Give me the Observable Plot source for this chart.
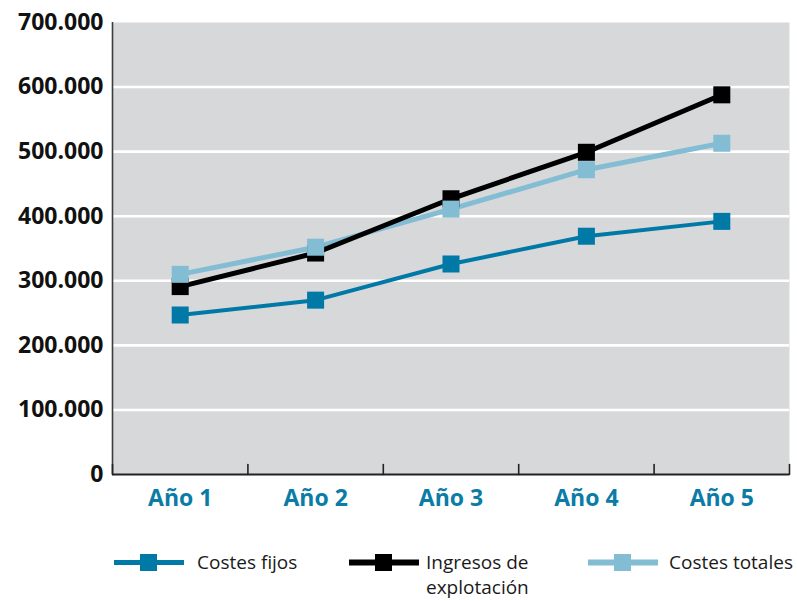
<!DOCTYPE html>
<html>
<head>
<meta charset="utf-8">
<script src="https://cdn.jsdelivr.net/npm/d3@7"></script>
<script src="https://cdn.jsdelivr.net/npm/@observablehq/plot@0.6"></script>
<style>
  html, body { margin: 0; padding: 0; background: #fff; }
  #wrap { position: relative; width: 797px; height: 601px; font-family: "Open Sans", sans-serif; }
  #legend { position: absolute; left: 0; top: 530px; width: 797px; height: 71px; }
  .item { position: absolute; display: flex; align-items: flex-start; }
  .item svg { display: block; }
  .item span { font-size: 19px; line-height: 25px; color: #1a1a1a; margin-top: 20px; }
</style>
</head>
<body>
<div id="wrap"><div id="chart"></div><div id="legend"></div></div>
<script>
// Years on the horizontal axis
const years = ["Año 1", "Año 2", "Año 3", "Año 4", "Año 5"];

// Series values (euros)
const costesFijos   = [247000, 270000, 326000, 369000, 392000];
const ingresos      = [291000, 343000, 427000, 499000, 588000];
const costesTotales = [310000, 352000, 411000, 472000, 513000];

// Y axis ticks
const yTicks = [0, 100000, 200000, 300000, 400000, 500000, 600000, 700000];

const seriesNames  = ["Costes fijos", ["Ingresos de", "explotación"], "Costes totales"];
const seriesValues = [costesFijos, ingresos, costesTotales];
const seriesColors = ["#0079a7", "#000000", "#82bdd4"];
const seriesWidths = [4, 5, 5];

const rows = (vals) => vals.map((v, i) => ({pos: i + 1, value: v}));
const bounds = d3.range(years.length + 1).map(i => i + 0.5);
const fmt = d => d3.format(",")(d).replace(/,/g, ".");

const tickShape = { draw(ctx, l) { ctx.moveTo(0, 0); ctx.lineTo(0, -l); } };

// draw order: teal, light blue, black lines; then markers
const order = [0, 2, 1];

const plot = Plot.plot({
  width: 797,
  height: 530,
  marginLeft: 112,
  marginRight: 8,
  marginTop: 22,
  marginBottom: 56,
  style: { fontFamily: "Open Sans, sans-serif", background: "white" },
  x: { domain: [0.5, years.length + 0.5], label: null },
  y: { domain: [0, 700000], label: null },
  marks: [
    Plot.frame({ fill: "#d7d8da", stroke: null }),
    Plot.ruleY(yTicks.filter(t => t > 0 && t < 700000), { stroke: "white", strokeWidth: 2.6 }),
    Plot.ruleX([0.5], { stroke: "#3c3c3c", strokeWidth: 1.6 }),
    Plot.ruleY([0], { stroke: "#222", strokeWidth: 2 }),
    Plot.vector(bounds, { x: d => d, y: 0, length: 10, rotate: 0, anchor: "start", shape: tickShape, stroke: "#222", strokeWidth: 1.6 }),
    Plot.axisY({ ticks: yTicks, tickSize: 0, tickPadding: 9, tickFormat: fmt, label: null, fontSize: 23, fontWeight: "bold", fill: "#111", style: "letter-spacing:2.6px" }),
    Plot.axisX({ ticks: d3.range(1, years.length + 1), tickSize: 0, tickPadding: 15, tickFormat: i => years[i - 1], label: null, fontSize: 23, fontWeight: "bold", fill: "#0a7ca6", style: "letter-spacing:2.2px" }),
    ...order.map(k => Plot.line(rows(seriesValues[k]), { x: "pos", y: "value", stroke: seriesColors[k], strokeWidth: seriesWidths[k] })),
    ...[1, 0, 2].map(k => Plot.dot(rows(seriesValues[k]), { x: "pos", y: "value", symbol: "square", r: 9.6, fill: seriesColors[k] }))
  ]
});
document.getElementById("chart").appendChild(plot);

// Legend below the chart
const legendX = [114, 349, 588];
const legendGap = [13, 7, 11];
const legend = document.getElementById("legend");
seriesNames.forEach((name, k) => {
  const item = document.createElement("div");
  item.className = "item";
  item.style.left = legendX[k] + "px";
  item.style.top = "0px";
  const svg = d3.create("svg").attr("width", 70).attr("height", 50);
  svg.append("line").attr("x1", 0).attr("x2", 70).attr("y1", 32.5).attr("y2", 32.5)
    .attr("stroke", seriesColors[k]).attr("stroke-width", seriesWidths[k] + 1);
  svg.append("rect").attr("x", 26).attr("y", 24).attr("width", 17).attr("height", 17)
    .attr("fill", seriesColors[k]);
  item.appendChild(svg.node());
  const label = document.createElement("span");
  label.style.marginLeft = legendGap[k] + "px";
  label.innerHTML = [].concat(name).join("<br>");
  item.appendChild(label);
  legend.appendChild(item);
});
</script>
</body>
</html>
